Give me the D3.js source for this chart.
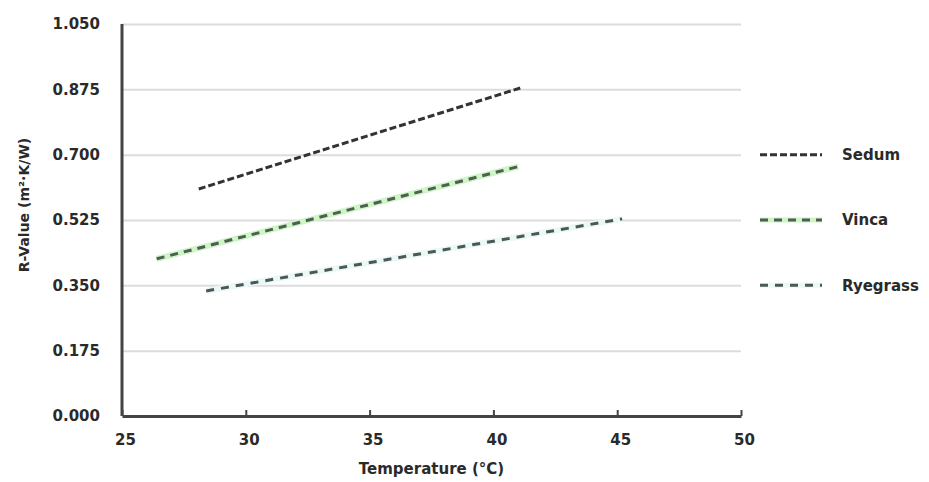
<!DOCTYPE html>
<html>
<head>
<meta charset="utf-8">
<script src="https://cdn.jsdelivr.net/npm/d3@7"></script>
<style>
  body { margin: 0; background: #fff; }
  text { font-family: "DejaVu Sans", sans-serif; font-weight: bold; fill: #2a2a2a; }
</style>
</head>
<body>
<script>
const width = 929;
const height = 482;

// data (fitted lines, two end points each)
var seriesNames = ["Sedum", "Vinca", "Ryegrass"];
var sedumT = [28.1, 41.1];
var sedumR = [0.608, 0.879];
var vincaT = [26.4, 41.0];
var vincaR = [0.421, 0.668];
var ryeT = [28.4, 45.2];
var ryeR = [0.335, 0.528];
var xTicks = [25, 30, 35, 40, 45, 50];
var yTicks = [0, 0.175, 0.35, 0.525, 0.7, 0.875, 1.05];

var margin = {left: 122, top: 24, right: 188, bottom: 66};
var w = width - margin.left - margin.right;
var h = height - margin.top - margin.bottom;

var svg = d3.select("body")
 .append("svg")
 .attr("width", width)
 .attr("height", height);

var g = svg.append("g")
 .attr("transform", "translate(" + margin.left + "," + margin.top + ")");

var xscale = d3.scaleLinear().domain([25, 50]).range([0, w]);
var yscale = d3.scaleLinear().domain([0, 1.05]).range([h, 0]);

//gridlines + y labels

var yAxis = g.append("g")
 .call(d3.axisLeft(yscale).tickValues(yTicks).tickSize(-w).tickPadding(22).tickFormat(d3.format(".3f")));
yAxis.select(".domain").remove();
yAxis.selectAll("line").attr("stroke", "#dcdcdc").attr("stroke-width", 2);
yAxis.selectAll("text").attr("font-size", 15).attr("fill", "#2a2a2a").attr("font-family", null);

//x axis with small ticks pointing up

var xAxis = g.append("g")
 .attr("transform", "translate(0," + h + ")")
 .call(d3.axisBottom(xscale).tickValues(xTicks).tickSizeInner(-6).tickSizeOuter(0).tickPadding(18));
xAxis.select(".domain").attr("stroke", "#444").attr("stroke-width", 3);
xAxis.selectAll("line").attr("stroke", "#444").attr("stroke-width", 2);
xAxis.selectAll("text").attr("font-size", 15).attr("fill", "#2a2a2a").attr("font-family", null).attr("dx", 3);

//left axis line
g.append("line")
 .attr("x1", 0).attr("x2", 0)
 .attr("y1", yscale(1.05)).attr("y2", h)
 .attr("stroke", "#444").attr("stroke-width", 3);

//series lines

var series = [
  {name: seriesNames[0], t: sedumT, r: sedumR, under: null, color: "#333", dash: "7,3"},
  {name: seriesNames[1], t: vincaT, r: vincaR, under: "#cdf5c6", color: "#4e5e50", dash: "8,6"},
  {name: seriesNames[2], t: ryeT, r: ryeR, under: "#eaf8f6", color: "#4b5857", dash: "8,7"}
];

var line = d3.line().x(d => xscale(d[0])).y(d => yscale(d[1]));

series.forEach(function(s) {
  var pts = s.t.map((t, i) => [t, s.r[i]]);
  if (s.under) {
    g.append("path").attr("d", line(pts))
     .attr("fill", "none").attr("stroke", s.under).attr("stroke-width", 6);
  }
  g.append("path").attr("d", line(pts))
   .attr("fill", "none").attr("stroke", s.color).attr("stroke-width", 3).attr("stroke-dasharray", s.dash);
});

//legend

var legendY = [0.7, 0.525, 0.35];
var legend = g.selectAll(".legend")
 .data(series)
 .enter().append("g")
 .attr("transform", (d, i) => "translate(" + (w + 19) + "," + yscale(legendY[i]) + ")");

legend.filter(d => d.under).append("line")
 .attr("x1", 0).attr("x2", 62)
 .attr("stroke", d => d.under).attr("stroke-width", 5);
legend.append("line")
 .attr("x1", 0).attr("x2", 62)
 .attr("stroke", d => d.color).attr("stroke-width", 3).attr("stroke-dasharray", d => d.dash);
legend.append("text")
 .attr("x", 82).attr("dy", "0.35em")
 .attr("font-size", 15)
 .text(d => d.name);

//axis titles

svg.append("text")
 .attr("x", margin.left + w / 2)
 .attr("y", 474)
 .attr("text-anchor", "middle")
 .attr("font-size", 15)
 .text("Temperature (°C)");

svg.append("text")
 .attr("transform", "translate(29,205) rotate(-90)")
 .attr("text-anchor", "middle")
 .attr("font-size", 14)
 .text("R-Value (m²·K/W)");
</script>
</body>
</html>
